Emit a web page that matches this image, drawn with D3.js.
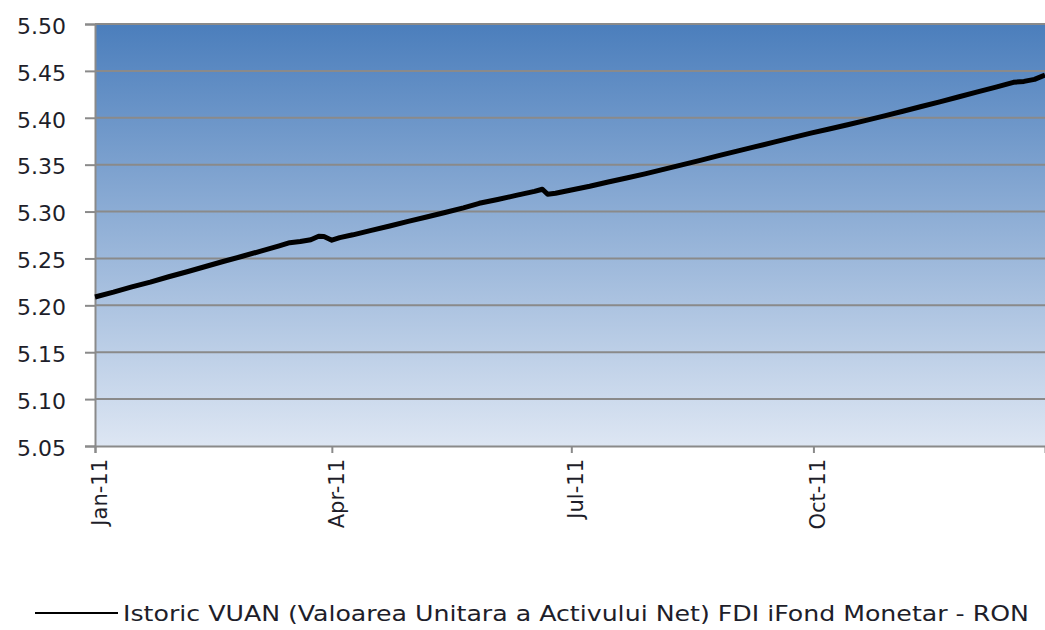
<!DOCTYPE html>
<html>
<head>
<meta charset="utf-8">
<script src="https://cdn.jsdelivr.net/npm/d3@7"></script>
<style>
  html, body { margin: 0; padding: 0; background: #ffffff; }
  svg { display: block; }
</style>
</head>
<body>
<svg id="chart" width="1045" height="630"></svg>
<script>
// ---- data ----
const dates = [
  "2011-01-01","2011-01-08","2011-01-15","2011-01-22","2011-01-29",
  "2011-02-05","2011-02-12","2011-02-19","2011-02-26",
  "2011-03-05","2011-03-12","2011-03-16","2011-03-20","2011-03-24","2011-03-27","2011-03-29",
  "2011-04-01","2011-04-04","2011-04-09","2011-04-16","2011-04-23","2011-04-30",
  "2011-05-07","2011-05-14","2011-05-21","2011-05-27",
  "2011-06-03","2011-06-10","2011-06-17","2011-06-20","2011-06-22","2011-06-25",
  "2011-07-01","2011-07-08","2011-07-15","2011-07-22","2011-07-29",
  "2011-08-05","2011-08-12","2011-08-19","2011-08-26",
  "2011-09-02","2011-09-09","2011-09-16","2011-09-23","2011-09-30",
  "2011-10-07","2011-10-14","2011-10-21","2011-10-28",
  "2011-11-04","2011-11-11","2011-11-18","2011-11-25",
  "2011-12-02","2011-12-09","2011-12-16","2011-12-20","2011-12-24","2011-12-28"
];
const values = [
  5.2089,5.2140,5.2196,5.2248,5.2305,
  5.2358,5.2414,5.2470,5.2523,
  5.2578,5.2635,5.2668,5.2680,5.2700,5.2736,5.2734,
  5.2695,5.2722,5.2752,5.2800,5.2846,5.2895,
  5.2942,5.2990,5.3040,5.3088,
  5.3128,5.3172,5.3215,5.3238,5.3185,5.3196,
  5.3230,5.3270,5.3315,5.3358,5.3402,
  5.3450,5.3498,5.3546,5.3596,
  5.3644,5.3692,5.3740,5.3788,5.3836,
  5.3880,5.3926,5.3972,5.4020,
  5.4070,5.4120,5.4170,5.4222,
  5.4273,5.4325,5.4378,5.4388,5.4410,5.4456
];
const yTicks = [5.05,5.10,5.15,5.20,5.25,5.30,5.35,5.40,5.45,5.50];
const xTickDates = ["2011-01-01","2011-04-01","2011-07-01","2011-10-01"];
const xTickLabels = ["Jan-11","Apr-11","Jul-11","Oct-11"];
const seriesName = "Istoric VUAN (Valoarea Unitara a Activului Net) FDI iFond Monetar - RON";

// ---- layout ----
const parse = d3.utcParse("%Y-%m-%d");
const mLeft = 95, mRight = 1045, mTop = 24, mBottom = 446;
const svg = d3.select("#chart");

const x = d3.scaleUtc()
  .domain([parse(dates[0]), parse(dates[dates.length - 1])])
  .range([mLeft, mRight]);
const y = d3.scaleLinear().domain([5.05, 5.50]).range([mBottom, mTop]);

// background gradient
const defs = svg.append("defs");
const grad = defs.append("linearGradient").attr("id", "bg")
  .attr("x1", 0).attr("y1", 0).attr("x2", 0).attr("y2", 1);
grad.append("stop").attr("offset", "0%").attr("stop-color", "#4b7ebc");
grad.append("stop").attr("offset", "100%").attr("stop-color", "#dde6f3");

svg.append("rect")
  .attr("x", mLeft).attr("y", mTop)
  .attr("width", mRight - mLeft).attr("height", mBottom - mTop)
  .attr("fill", "url(#bg)");

// gridlines
svg.append("g").selectAll("line").data(yTicks.filter(v => v > 5.05)).join("line")
  .attr("x1", mLeft).attr("x2", mRight)
  .attr("y1", d => y(d)).attr("y2", d => y(d))
  .attr("stroke", "#8a8a8a").attr("stroke-width", 2);

// y axis
const yAxis = svg.append("g").attr("transform", `translate(${mLeft},0)`)
  .call(d3.axisLeft(y).tickValues(yTicks).tickFormat(d3.format(".2f")).tickSize(10).tickPadding(19));
yAxis.select(".domain").attr("stroke", "#8a8a8a").attr("stroke-width", 2);
yAxis.selectAll(".tick line").attr("stroke", "#8a8a8a").attr("stroke-width", 2);
yAxis.selectAll(".tick text")
  .attr("font-family", "'DejaVu Sans', Verdana, sans-serif")
  .attr("font-size", 22).attr("fill", "#1e1e2a")
  .attr("dy", "0.42em");

// x axis
const xAxis = svg.append("g").attr("transform", `translate(0,${mBottom})`)
  .call(d3.axisBottom(x).tickValues(xTickDates.map(parse))
    .tickFormat((d, i) => xTickLabels[i]).tickSize(7));
xAxis.select(".domain").attr("stroke", "#8a8a8a").attr("stroke-width", 2);
xAxis.selectAll(".tick line").attr("stroke", "#8a8a8a").attr("stroke-width", 2);
xAxis.selectAll(".tick text")
  .attr("font-family", "'DejaVu Sans', Verdana, sans-serif")
  .attr("font-size", 21).attr("fill", "#1e1e2a")
  .attr("text-anchor", "end")
  .attr("transform", "translate(4,13) rotate(-90)")
  .attr("x", 0).attr("y", 0).attr("dy", "0.35em");

// line
const data = dates.map((d, i) => ({ date: parse(d), value: values[i] }));
svg.append("path").datum(data)
  .attr("fill", "none").attr("stroke", "#000").attr("stroke-width", 5)
  .attr("stroke-linejoin", "round")
  .attr("d", d3.line().x(d => x(d.date)).y(d => y(d.value)));

// legend
const lg = svg.append("g");
lg.append("line").attr("x1", 35).attr("x2", 118).attr("y1", 613).attr("y2", 613)
  .attr("stroke", "#000").attr("stroke-width", 2);
lg.append("text").attr("x", 123).attr("y", 621)
  .attr("font-family", "'DejaVu Sans Condensed', 'DejaVu Sans', sans-serif")
  .attr("font-size", 22).attr("fill", "#1e1e2a")
  .attr("textLength", 906).attr("lengthAdjust", "spacingAndGlyphs")
  .text(seriesName);
</script>
</body>
</html>
